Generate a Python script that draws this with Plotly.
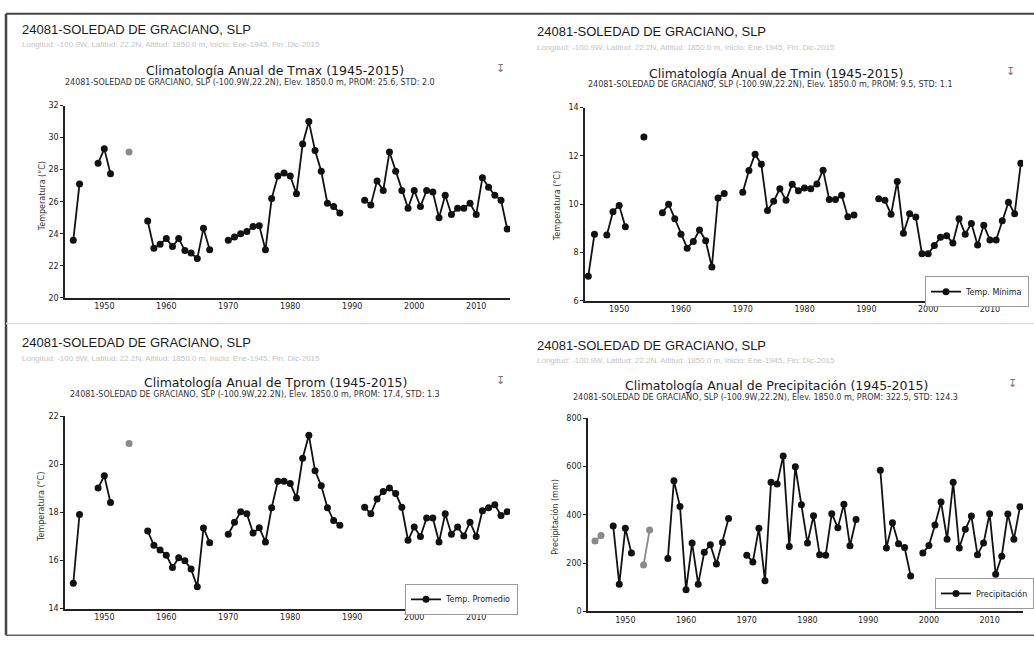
import plotly.graph_objects as go

years = list(range(1945, 2016))

tmax = [23.6, 27.1, None, None, 28.4, 29.3, 27.75, None, None, None, None, None,
        24.8, 23.1, 23.35, 23.7, 23.2, 23.7, 22.95, 22.8, 22.45, 24.35, 23.0, None, None,
        23.6, 23.8, 24.0, 24.15, 24.45, 24.5, 23.0, 26.2, 27.6, 27.8, 27.6, 26.5, 29.6, 31.0,
        29.2, 27.9, 25.9, 25.7, 25.3, None, None, None,
        26.1, 25.8, 27.3, 26.7, 29.1, 27.9, 26.7, 25.6, 26.7, 25.7, 26.7, 26.6, 25.0, 26.4,
        25.2, 25.6, 25.6, 25.9, 25.2, 27.5, 26.9, 26.4, 26.1, 24.3]

tmin = [7.02, 8.76, None, 8.72, 9.69, 9.95, 9.07, None, None, 12.78, None, None,
        9.65, 10.0, 9.4, 8.76, 8.18, 8.46, 8.93, 8.49, 7.4, 10.26, 10.44, None, None,
        10.49, 11.39, 12.07, 11.65, 9.74, 10.12, 10.64, 10.16, 10.83, 10.56, 10.67, 10.64,
        10.84, 11.41, 10.19, 10.19, 10.37, 9.48, 9.55, None, None, None,
        10.23, 10.16, 9.58, 10.94, 8.8, 9.6, 9.47, 7.95, 7.95, 8.29, 8.63, 8.69, 8.39, 9.4,
        8.76, 9.2, 8.31, 9.13, 8.52, 8.52, 9.31, 10.08, 9.6, 11.69]

tprom = [15.05, 17.91, None, None, 19.01, 19.52, 18.41, None, None, None, None, None,
         17.22, 16.63, 16.43, 16.22, 15.71, 16.11, 15.99, 15.64, 14.91, 17.35, 16.74, None, None,
         17.09, 17.59, 18.03, 17.94, 17.14, 17.36, 16.77, 18.19, 19.29, 19.29, 19.2, 18.6,
         20.25, 21.21, 19.73, 19.11, 18.19, 17.66, 17.46, None, None, None,
         18.21, 17.94, 18.56, 18.87, 19.01, 18.79, 18.21, 16.84, 17.39, 17.0, 17.77, 17.77,
         16.77, 17.94, 17.09, 17.39, 17.02, 17.59, 17.0, 18.07, 18.19, 18.32, 17.87, 18.03]

prcp = [None, None, None, 354, 113, 344, 242, None, None, None, None, None,
        219, 541, 435, 90, 283, 113, 245, 276, 197, 286, 385, None, None,
        233, 205, 344, 127, 535, 528, 644, 269, 599, 442, 283, 396, 235, 233, 405, 347,
        444, 272, 381, None, None, None,
        585, 263, 367, 280, 265, 147, None, 242, 273, 358, 453, 299, 535, 263, 340, 395,
        235, 283, 405, 154, 229, 403, 299, 433]

# grey (secondary) marks
grey_tmax_years = [1954]
grey_tmax = [29.1]
grey_tprom_years = [1954]
grey_tprom = [20.87]
grey_prcp_years = [1945, 1946, None, 1953, 1954]
grey_prcp = [292, 314, None, 192, 337]

W, H = 1034, 651
def px(x): return x / W
def py(y): return 1 - y / H

fig = go.Figure()
line = dict(color="#111111", width=1.8)
mk = dict(color="#111111", size=7)
gline = dict(color="#8a8a8a", width=1.8)
gmk = dict(color="#8a8a8a", size=7)

fig.add_trace(go.Scatter(x=years, y=tmax, mode="lines+markers", line=line, marker=mk,
                         name="Temp. Máxima", showlegend=False, xaxis="x", yaxis="y"))
fig.add_trace(go.Scatter(x=grey_tmax_years, y=grey_tmax, mode="markers", marker=gmk,
                         showlegend=False, xaxis="x", yaxis="y"))
fig.add_trace(go.Scatter(x=years, y=tmin, mode="lines+markers", line=line, marker=mk,
                         name="Temp. Mínima", legend="legend", xaxis="x2", yaxis="y2"))
fig.add_trace(go.Scatter(x=years, y=tprom, mode="lines+markers", line=line, marker=mk,
                         name="Temp. Promedio", legend="legend2", xaxis="x3", yaxis="y3"))
fig.add_trace(go.Scatter(x=grey_tprom_years, y=grey_tprom, mode="markers", marker=gmk,
                         showlegend=False, xaxis="x3", yaxis="y3"))
fig.add_trace(go.Scatter(x=years, y=prcp, mode="lines+markers", line=line, marker=mk,
                         name="Precipitación", legend="legend3", xaxis="x4", yaxis="y4"))
fig.add_trace(go.Scatter(x=grey_prcp_years, y=grey_prcp, mode="lines+markers", line=gline,
                         marker=gmk, showlegend=False, xaxis="x4", yaxis="y4"))

tickfont = dict(family="DejaVu Sans", size=8, color="#222222")
def xax(dom, rng, anchor):
    return dict(domain=[px(dom[0]), px(dom[1])], range=rng, anchor=anchor,
                tick0=1950, dtick=10, showgrid=False, zeroline=False,
                showline=True, linecolor="#222222", linewidth=1.6,
                ticks="", tickfont=tickfont)
def yax(dom, rng, dt, anchor):
    return dict(domain=[py(dom[1]), py(dom[0])], range=rng, anchor=anchor,
                dtick=dt, showgrid=False, zeroline=False,
                showline=True, linecolor="#222222", linewidth=1.6,
                ticks="outside", ticklen=3, tickcolor="#222222", tickfont=tickfont)

fig.update_layout(
    width=W, height=H, margin=dict(l=0, r=0, t=0, b=0),
    paper_bgcolor="white", plot_bgcolor="white",
    xaxis=xax((65, 510), [1943.66, 2015.45], "y"),
    yaxis=yax((103, 298), [20, 32], 2, "x"),
    xaxis2=xax((585, 1023), [1944.47, 2015.35], "y2"),
    yaxis2=yax((105, 301), [6, 14], 2, "x2"),
    xaxis3=xax((65, 510), [1943.66, 2015.45], "y3"),
    yaxis3=yax((418, 613), [14, 22], 2, "x3"),
    xaxis4=xax((588, 1023), [1943.85, 2015.5], "y4"),
    yaxis4=yax((420, 616), [0, 800], 200, "x4"),
)

legfont = dict(family="DejaVu Sans", size=8, color="#222222")
def leg(x, y):
    return dict(x=px(x), y=py(y), xanchor="left", yanchor="top", bgcolor="white",
                bordercolor="#9a9a9a", borderwidth=1, font=legfont, itemwidth=30,
                tracegroupgap=0)
fig.update_layout(legend=leg(925, 276), legend2=leg(405, 588), legend3=leg(935, 582))

ann = []
def txt(x, y, s, size, color="#222222", fam="DejaVu Sans", xa="center", angle=0):
    ann.append(dict(x=px(x), y=py(y), xref="paper", yref="paper", text=s, showarrow=False,
                    xanchor=xa, yanchor="middle", textangle=angle,
                    font=dict(family=fam, size=size, color=color)))

hdr = "24081-SOLEDAD DE GRACIANO, SLP"
blur = "Longitud: -100.9W, Latitud: 22.2N, Altitud: 1850.0 m, Inicio: Ene-1945, Fin: Dic-2015"
sub = "24081-SOLEDAD DE GRACIANO, SLP (-100.9W,22.2N), Elev. 1850.0 m, "
panels = [
    (20, 26, 41, 275, 67, 250, 80, "Climatología Anual de Tmax (1945-2015)", "PROM: 25.6, STD: 2.0", 500),
    (535, 28, 44, 776, 70, 770, 82, "Climatología Anual de Tmin (1945-2015)", "PROM: 9.5, STD: 1.1", 1010),
    (20, 343, 359, 275, 384, 255, 396, "Climatología Anual de Tprom (1945-2015)", "PROM: 17.4, STD: 1.3", 500),
    (535, 346, 362, 776, 387, 765, 399, "Climatología Anual de Precipitación (1945-2015)", "PROM: 322.5, STD: 124.3", 1012),
]
for hx, hy, by, tx, ty, sx, sy, title, stats, ix in panels:
    txt(hx, hy, hdr, 13, "#1a1a1a", "Liberation Sans", "left")
    txt(hx, by, blur, 8, "#c4c4c4", "Liberation Sans", "left")
    txt(tx, ty, title, 12.5, "#1a1a1a")
    txt(sx, sy, sub + stats, 8, "#333333")
    txt(ix, ty - 2, "↧", 11, "#777777")

txt(42, 195, "Temperatura (°C)", 8, "#333333", angle=-90)
txt(557, 205, "Temperatura (°C)", 8, "#333333", angle=-90)
txt(42, 510, "Temperatura (°C)", 8, "#333333", angle=-90)
txt(555, 520, "Precipitación (mm)", 8, "#333333", angle=-90)
fig.update_layout(annotations=ann)

shapes = [
    dict(type="line", xref="paper", yref="paper", x0=px(6), x1=1, y0=py(10), y1=py(10),
         line=dict(color="#444444", width=2)),
    dict(type="line", xref="paper", yref="paper", x0=px(6), x1=px(6), y0=py(10), y1=py(640),
         line=dict(color="#444444", width=2.5)),
    dict(type="line", xref="paper", yref="paper", x0=px(6), x1=1, y0=py(640), y1=py(640),
         line=dict(color="#666666", width=1.5)),
    dict(type="line", xref="paper", yref="paper", x0=px(6), x1=1, y0=py(324), y1=py(324),
         line=dict(color="#dddddd", width=1.5)),
]
fig.update_layout(shapes=shapes)

fig.write_html("out.html", config={"displayModeBar": False},
               post_script="document.body.style.margin='0';document.body.style.overflow='hidden';")
